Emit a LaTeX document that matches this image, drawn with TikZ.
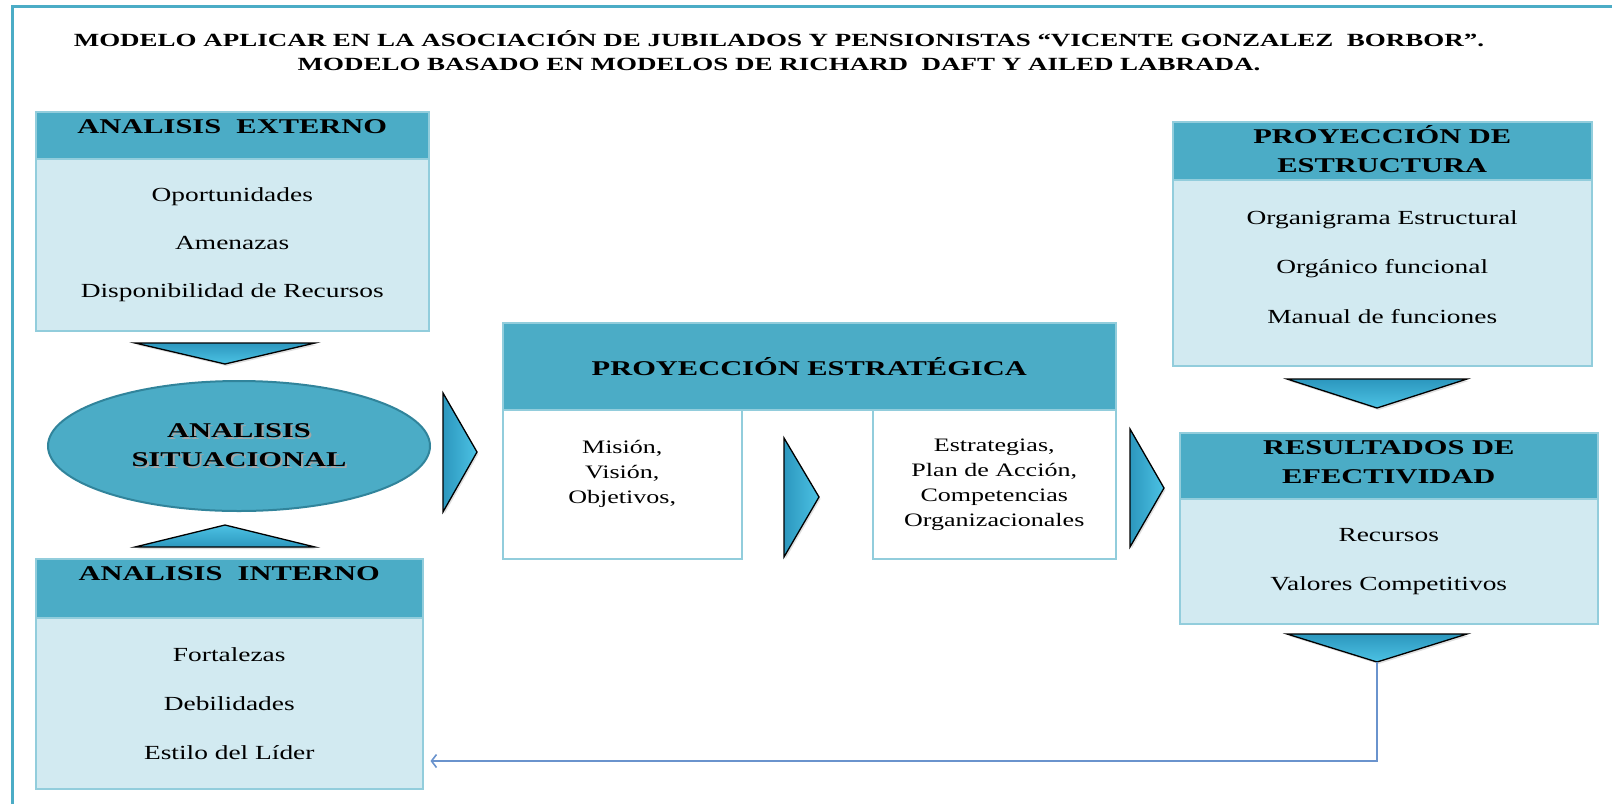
\documentclass[tikz,border=0pt]{standalone}
\usepackage{fontspec}
\setmainfont[FakeStretch=1.37,BoldFeatures={FakeStretch=1.45}]{Liberation Serif}
\usetikzlibrary{shapes.geometric,arrows.meta,shadows}

\definecolor{tealc}{HTML}{4BACC6}
\definecolor{palec}{HTML}{D2EAF1}
\definecolor{edgec}{HTML}{92CDDC}
\definecolor{ringc}{HTML}{31849B}
\definecolor{arrdark}{HTML}{2C97BE}
\definecolor{arrlight}{HTML}{4CC2E4}
\definecolor{backc}{HTML}{6A93CD}

\tikzset{
  hdr/.style={rectangle, fill=tealc, draw=edgec, line width=1.5pt, anchor=north west,
    inner sep=0pt, align=center, font=\fontsize{21}{29}\selectfont\bfseries},
  bodybox/.style={rectangle, fill=palec, draw=edgec, line width=1.5pt, anchor=north west,
    inner sep=0pt, align=center},
  plainbox/.style={rectangle, fill=white, draw=edgec, line width=1.5pt, anchor=north west,
    inner sep=0pt, align=center, font=\fontsize{19}{25}\selectfont},
  blk/.style={draw=black, line width=1.3pt,
    drop shadow={opacity=0.25, shadow xshift=1.5pt, shadow yshift=-2pt}},
  blkdown/.style={blk, top color=arrdark, bottom color=arrlight},
  blkup/.style={blk, top color=arrlight, bottom color=arrdark},
  blkright/.style={blk, left color=arrdark, right color=arrlight},
  fback/.style={draw=backc, line width=1.6pt, -{Straight Barb[length=5pt,width=13pt]}},
}
\newcommand\shtext[1]{\makebox[0pt][l]{\hspace{2pt}\raisebox{-2pt}{\color{black!35}#1}}#1}

\begin{document}
\begin{tikzpicture}[x=1pt,y=-1pt]
\useasboundingbox (0,0) rectangle (1612,804);
\draw[tealc, line width=3pt] (12,804) -- (12,6) -- (1612,6);

\node[font=\fontsize{18.6}{24}\selectfont\bfseries, align=center, anchor=base] (title) at (779,70)
  {MODELO APLICAR EN LA ASOCIACIÓN DE JUBILADOS Y PENSIONISTAS “VICENTE GONZALEZ~ BORBOR”.\\
   MODELO BASADO EN MODELOS DE RICHARD~ DAFT Y AILED LABRADA.};

\node[hdr, minimum width=393pt, minimum height=47pt, text height=22pt, text depth=25pt] (exth) at (35,111) {ANALISIS~ EXTERNO};
\node[bodybox, minimum width=393pt, minimum height=172pt, font=\fontsize{20}{48}\selectfont] (ext) at (35,158)
  {Oportunidades\\Amenazas\\Disponibilidad de Recursos};

\node[ellipse, fill=tealc, draw=ringc, line width=2pt, minimum width=382pt, minimum height=130pt,
  inner sep=0pt, align=center, font=\fontsize{21}{29}\selectfont\bfseries] (sit) at (239,446)
  {\shtext{ANALISIS}\\\shtext{SITUACIONAL}};

\node[hdr, minimum width=387pt, minimum height=59pt, text height=22pt, text depth=37pt] (inth) at (35,558) {ANALISIS~ INTERNO};
\node[bodybox, minimum width=387pt, minimum height=171pt, font=\fontsize{20}{49}\selectfont] (int) at (35,617)
  {Fortalezas\\Debilidades\\Estilo del Líder};

\node[hdr, minimum width=613pt, minimum height=87pt] (proy) at (502,322) {PROYECCIÓN ESTRATÉGICA};
\node[plainbox, minimum width=239pt, minimum height=149pt, text depth=24pt] (mis) at (502,409)
  {Misión,\\Visión,\\Objetivos,};
\node[plainbox, minimum width=243pt, minimum height=149pt, text depth=4pt] (estr) at (872,409)
  {Estrategias,\\Plan de Acción,\\Competencias\\Organizacionales};

\node[hdr, minimum width=419pt, minimum height=58pt, text depth=4pt] (esth) at (1172,121) {PROYECCIÓN DE\\ESTRUCTURA};
\node[bodybox, minimum width=419pt, minimum height=186pt, text depth=12pt, font=\fontsize{20}{49.5}\selectfont] (est) at (1172,179)
  {Organigrama Estructural\\Orgánico funcional\\Manual de funciones};

\node[hdr, minimum width=418pt, minimum height=66pt, text depth=7pt] (resh) at (1179,432) {RESULTADOS DE\\EFECTIVIDAD};
\node[bodybox, minimum width=418pt, minimum height=125pt, font=\fontsize{20}{49}\selectfont] (res) at (1179,498)
  {Recursos\\Valores Competitivos};

\draw[blkdown] (135,343) -- (315,343) -- (225,364) -- cycle;
\draw[blkup] (135,547) -- (315,547) -- (225,525) -- cycle;
\draw[blkright] (443,393) -- (443,512) -- (477,452) -- cycle;
\draw[blkright] (784,438) -- (784,557) -- (819,497) -- cycle;
\draw[blkright] (1130,429) -- (1130,547) -- (1164,488) -- cycle;
\draw[blkdown] (1287,379) -- (1467,379) -- (1377,408) -- cycle;
\draw[blkdown] (1287,634) -- (1467,634) -- (1377,662) coordinate (rtip) -- cycle;

\coordinate (fbc) at (1377,761);
\draw[fback, shorten >=7pt] (rtip) -- (fbc) -- (fbc -| int.east);
\end{tikzpicture}
\end{document}
